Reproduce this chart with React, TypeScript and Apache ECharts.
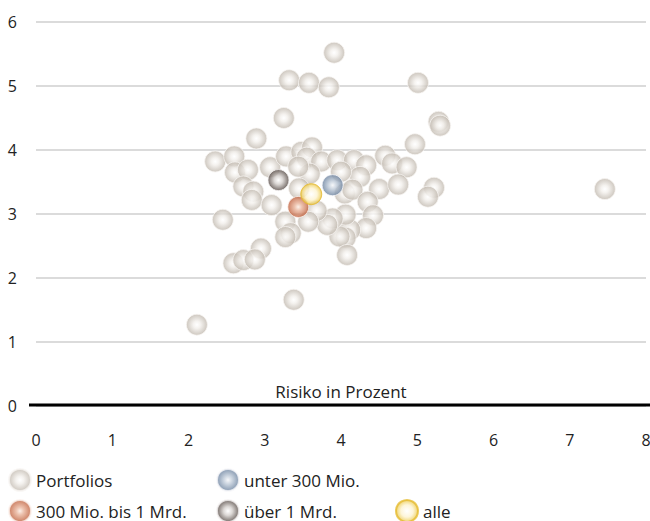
import React, { useEffect, useRef } from "react";
import * as echarts from "echarts";

// Risk (x, percent) and return (y) of the individual portfolios
const portfolioRisk = [
  3.91, 3.32, 3.58, 3.84, 5.01, 3.25, 5.28, 5.30, 4.97, 2.89,
  2.35, 2.60, 2.61, 2.78, 2.72, 2.85, 2.83, 3.07, 3.28, 3.48,
  3.62, 3.55, 3.74, 3.95, 4.17, 4.33, 4.25, 4.00, 3.59, 3.44,
  3.45, 3.09, 4.05, 4.15, 4.50, 4.58, 4.67, 4.86, 4.75, 5.22,
  5.14, 4.35, 4.42, 4.33, 4.12, 4.06, 4.06, 3.98, 3.89, 3.82,
  3.68, 3.57, 3.27, 3.34, 3.27, 2.45, 2.95, 2.59, 2.72, 2.87,
  4.08, 3.38, 2.11, 7.46,
];
const portfolioReturn = [
  5.52, 5.09, 5.05, 4.98, 5.05, 4.50, 4.44, 4.38, 4.09, 4.18,
  3.82, 3.90, 3.65, 3.69, 3.43, 3.35, 3.22, 3.73, 3.90, 3.97,
  4.04, 3.88, 3.82, 3.84, 3.84, 3.76, 3.58, 3.66, 3.63, 3.74,
  3.40, 3.14, 3.32, 3.38, 3.39, 3.91, 3.79, 3.73, 3.46, 3.41,
  3.27, 3.19, 2.98, 2.78, 2.75, 2.99, 2.63, 2.65, 2.93, 2.83,
  3.05, 2.88, 2.88, 2.70, 2.64, 2.91, 2.46, 2.23, 2.28, 2.29,
  2.36, 1.66, 1.27, 3.39,
];

// Group averages [risk, return]
const unter300 = [3.89, 3.45];
const mio300bis1Mrd = [3.44, 3.11];
const ueber1Mrd = [3.18, 3.53];
const alle = [3.61, 3.31];

const seriesNames = ["Portfolios", "unter 300 Mio.", "300 Mio. bis 1 Mrd.", "über 1 Mrd.", "alle"];
const xTickLabels = ["0", "1", "2", "3", "4", "5", "6", "7", "8"];
const yTickLabels = ["0", "1", "2", "3", "4", "5", "6"];
const xAxisTitle = "Risiko in Prozent";

const FONT = "'Open Sans', 'Noto Sans', sans-serif";

const ball = (stops: [number, string][]) =>
  new echarts.graphic.RadialGradient(
    0.5,
    0.5,
    0.5,
    stops.map(([offset, color]) => ({ offset, color }))
  );

export default function App() {
  const ref = useRef<HTMLDivElement>(null);

  useEffect(() => {
    if (!ref.current) return;
    const chart = echarts.init(ref.current, null, { renderer: "svg" });

    const styles = [
      {
        color: ball([[0, "#ffffff"], [0.35, "#f2efeb"], [1, "#c1b9af"]]),
        borderColor: "#f7f5f2",
        borderWidth: 1,
      },
      {
        color: ball([[0, "#f4f6f9"], [0.35, "#c3cedb"], [1, "#6a819e"]]),
        borderColor: "#f7f8fa",
        borderWidth: 1,
      },
      {
        color: ball([[0, "#fcece3"], [0.35, "#e8b299"], [1, "#bf5f3b"]]),
        borderColor: "#fbf1ec",
        borderWidth: 1,
      },
      {
        color: ball([[0, "#ffffff"], [0.4, "#d3cecb"], [1, "#544944"]]),
        borderColor: "#f5f3f2",
        borderWidth: 1,
      },
      {
        color: ball([[0, "#ffffff"], [0.55, "#fdf3d0"], [0.85, "#f2d877"], [1, "#e2b52c"]]),
        borderColor: "#e6bd33",
        borderWidth: 1,
      },
    ];

    const datasets: number[][][] = [
      portfolioRisk.map((x, i) => [x, portfolioReturn[i]]),
      [unter300],
      [mio300bis1Mrd],
      [ueber1Mrd],
      [alle],
    ];

    const legendPos = [
      { left: 8, top: 468 },
      { left: 216, top: 468 },
      { left: 8, top: 499 },
      { left: 216, top: 499 },
      { left: 395, top: 499 },
    ];

    chart.setOption({
      animation: false,
      textStyle: { fontFamily: FONT },
      grid: {
        left: 36,
        right: 4,
        top: 22,
        bottom: 115,
        containLabel: false,
        outerBoundsMode: "none",
      },
      xAxis: {
        type: "value",
        min: 0,
        max: 8,
        interval: 1,
        axisLine: { show: false },
        axisTick: { show: false },
        splitLine: { show: false },
        axisLabel: {
          margin: 26,
          fontSize: 16,
          color: "#222",
          fontFamily: FONT,
          formatter: (v: number) => xTickLabels[Math.round(v)] ?? "",
        },
      },
      yAxis: {
        type: "value",
        min: 0,
        max: 6,
        interval: 1,
        axisLine: { show: false },
        axisTick: { show: false },
        splitLine: { show: true, lineStyle: { color: "#cfcfcf", width: 1.5 } },
        axisLabel: {
          margin: 19,
          fontSize: 16,
          color: "#222",
          fontFamily: FONT,
          formatter: (v: number) => yTickLabels[Math.round(v)] ?? "",
        },
      },
      legend: seriesNames.map((name, i) => ({
        data: [name],
        left: legendPos[i].left,
        top: legendPos[i].top,
        orient: "horizontal",
        icon: "circle",
        itemWidth: 22,
        itemHeight: 22,
        padding: 0,
        selectedMode: false,
        textStyle: { fontSize: 17, color: "#222", fontFamily: FONT },
      })),
      graphic: [
        {
          type: "line",
          z: 100,
          shape: { x1: 29, y1: 405, x2: 650, y2: 405 },
          style: { stroke: "#000000", lineWidth: 3 },
        },
        {
          type: "text",
          z: 100,
          x: 341,
          y: 391,
          style: {
            text: xAxisTitle,
            fontSize: 17,
            fill: "#222",
            fontFamily: FONT,
            align: "center",
            verticalAlign: "middle",
          },
        },
      ],
      series: seriesNames.map((name, i) => ({
        type: "scatter",
        name,
        data: datasets[i],
        symbol: "circle",
        symbolSize: 21,
        itemStyle: styles[i],
        z: i === 0 ? 2 : 3 + i,
        emphasis: { disabled: true },
      })),
    });

    return () => chart.dispose();
  }, []);

  return <div ref={ref} style={{ width: 650, height: 521, position: "absolute", left: 0, top: 0 }} />;
}
